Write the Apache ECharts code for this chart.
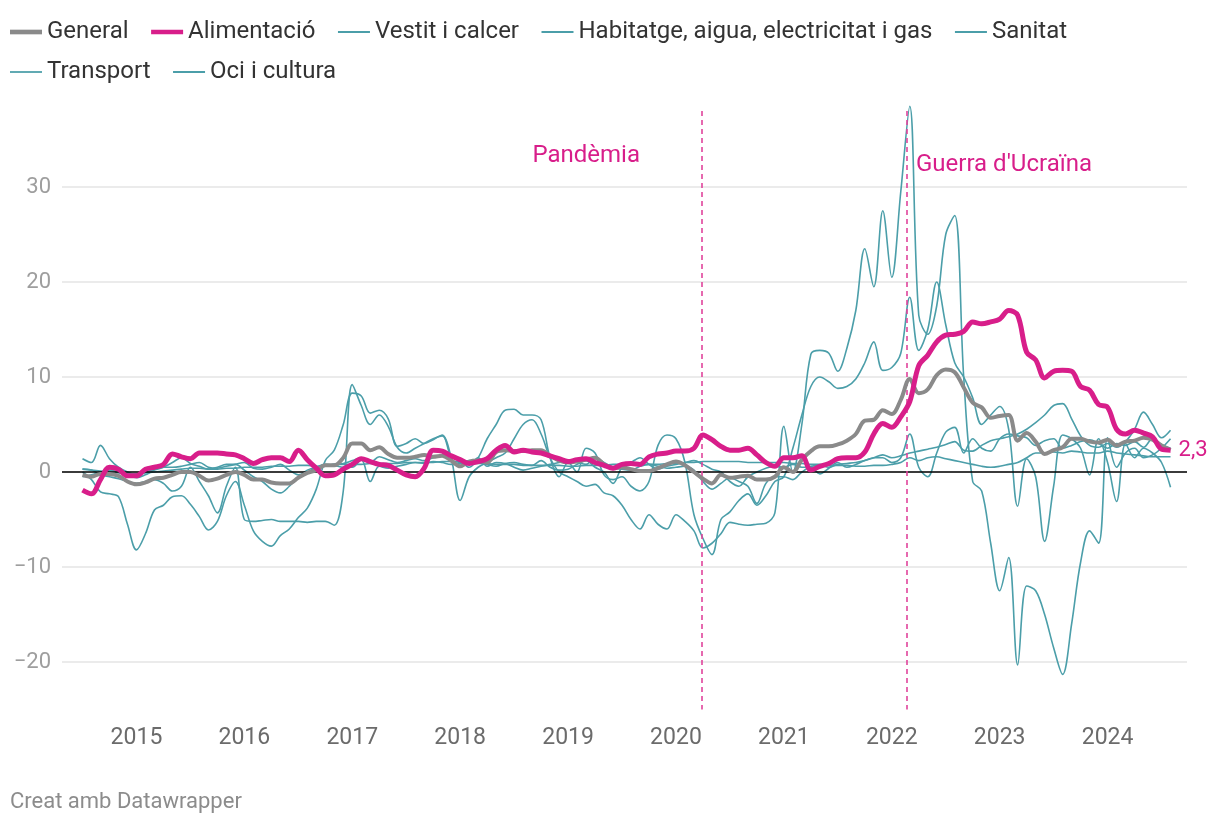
<!DOCTYPE html>
<html><head><meta charset="utf-8">
<script src="https://cdn.jsdelivr.net/npm/echarts@6/dist/echarts.min.js"></script>
<style>html,body{margin:0;padding:0;background:#fff}#c{width:1220px;height:826px}</style>
</head><body><div id="c"></div>
<script>
// Monthly annual CPI change (%), Jul 2014 – Aug 2024
const startYear = 2014, startMonth = 7;

const general = [
 -0.3,-0.5,-0.2,-0.2,-0.4,-1.0,
 -1.3,-1.1,-0.7,-0.6,-0.3,0.0,0.0,-0.4,-0.9,-0.7,-0.3,0.0,
 -0.3,-0.8,-0.8,-1.1,-1.2,-1.2,-0.6,-0.1,0.2,0.7,0.7,1.5,
 3.0,3.0,2.3,2.6,1.9,1.5,1.5,1.6,1.8,1.6,1.7,1.2,
 0.6,1.1,1.2,1.0,2.1,2.3,2.2,2.2,2.3,2.3,1.7,1.2,
 1.0,1.1,1.3,1.5,0.8,0.4,0.5,0.3,0.1,0.1,0.4,0.8,
 1.1,0.7,0.0,-0.7,-1.2,-0.3,-0.6,-0.5,-0.4,-0.8,-0.8,-0.5,
 0.5,0.0,1.3,2.2,2.7,2.7,2.9,3.3,4.0,5.4,5.5,6.5,
 6.1,7.6,9.8,8.3,8.7,10.2,10.8,10.5,8.9,7.3,6.8,5.7,
 5.9,6.0,3.3,4.1,3.2,1.9,2.3,2.6,3.5,3.5,3.2,3.1,
 3.4,2.8,3.2,3.3,3.6,3.4,2.8,2.3
];
const alimentacio = [
 -1.9,-2.3,-0.8,0.5,0.3,-0.4,
 -0.4,0.3,0.5,0.8,1.9,1.6,1.4,2.0,2.0,2.0,1.9,1.8,
 1.4,0.9,1.3,1.5,1.5,1.1,2.3,1.3,0.4,-0.4,-0.3,0.3,
 0.8,1.4,1.1,0.8,0.7,0.2,-0.3,-0.5,0.4,2.3,2.2,1.7,
 1.3,0.9,1.1,1.4,2.3,2.8,2.1,2.3,2.1,2.0,1.7,1.4,
 1.1,1.3,1.4,1.0,0.7,0.4,0.8,0.9,0.8,1.6,1.9,2.0,
 2.2,2.2,2.5,3.9,3.4,2.7,2.3,2.3,2.5,1.8,1.0,0.6,
 1.5,1.5,1.7,0.2,0.6,0.9,1.4,1.5,1.5,2.1,4.0,5.1,
 4.7,5.8,7.4,11.2,12.3,13.7,14.4,14.5,14.8,15.8,15.6,15.8,
 16.1,17.0,16.5,12.6,11.8,9.9,10.6,10.7,10.6,9.0,8.6,7.1,
 6.8,4.5,4.0,4.4,4.1,3.7,2.4,2.3
];
const vestit = [
 1.4,1.0,2.8,1.4,0.5,0.0,
 -0.3,0.0,0.3,0.5,0.5,0.6,0.8,1.0,0.5,0.4,0.6,0.8,
 1.0,0.4,0.3,0.5,0.8,0.2,-0.3,0.0,0.5,0.8,0.7,0.5,
 0.5,1.3,-1.0,0.6,0.4,0.6,0.8,1.0,0.9,1.1,1.0,0.8,
 0.9,1.2,1.0,0.8,0.6,0.9,1.0,0.8,0.7,1.2,0.5,0.2,
 0.3,0.8,1.2,0.5,0.0,-1.2,0.5,1.0,1.5,0.8,0.3,0.6,
 0.8,1.0,1.2,0.8,0.3,0.0,-1.0,-1.5,-0.5,0.0,0.4,0.6,
 0.5,0.8,0.5,0.6,0.7,0.5,0.8,0.9,1.0,1.2,1.5,1.5,
 1.0,1.5,4.0,0.5,-0.5,2.0,4.2,4.7,2.0,3.5,2.5,2.2,
 3.5,4.0,3.8,3.6,2.8,3.3,3.5,2.5,2.8,3.2,3.4,3.0,
 2.5,3.0,2.8,3.2,2.6,3.5,2.9,2.5
];
const habitatge = [
 0.3,0.2,-0.3,-0.5,-0.7,-1.0,
 -1.2,-1.0,-0.8,-1.2,-2.0,-1.5,0.5,-1.0,-2.5,-4.3,-1.5,0.5,
 -5.0,-5.2,-5.1,-5.0,-5.2,-5.2,-5.2,-5.3,-5.2,-5.2,-5.6,-2.0,
 9.2,7.0,5.0,6.0,4.8,2.6,2.0,2.5,3.0,3.5,3.8,1.5,
 -3.0,-0.5,0.5,1.0,1.5,2.0,3.5,5.0,5.5,4.0,1.5,0.0,
 -0.5,-1.0,-1.5,-1.3,-2.2,-2.5,-3.5,-5.0,-6.0,-4.5,-5.5,-6.0,
 -4.5,-5.2,-6.2,-8.0,-7.5,-6.5,-5.3,-5.5,-5.6,-5.5,-5.4,-4.3,
 4.8,0.0,5.0,12.4,12.8,12.5,10.6,13.0,17.0,23.5,19.5,27.5,
 20.5,29.5,38.5,16.5,14.5,17.5,25.0,27.0,10.0,-1.0,-2.0,-7.5,
 -12.5,-9.0,-20.3,-12.0,-12.5,-15.0,-18.5,-21.3,-16.0,-9.5,-6.2,-7.5,
 3.6,0.5,2.0,2.5,1.5,1.8,2.5,3.5
];
const sanitat = [
 0.3,0.2,0.1,0.0,-0.1,-0.2,
 -0.2,-0.1,0.0,0.1,0.2,0.3,0.4,0.4,0.3,0.3,0.4,0.4,
 0.5,0.5,0.5,0.6,0.6,0.6,0.7,0.7,0.6,0.7,0.8,0.8,
 0.8,0.8,0.9,0.9,0.9,0.9,1.0,1.0,1.0,1.0,1.1,1.1,
 1.1,1.0,0.9,0.9,0.8,0.8,0.8,0.7,0.7,0.7,0.7,0.7,
 0.6,0.6,0.7,0.7,0.7,0.8,0.8,0.8,0.8,0.8,0.8,0.9,
 0.9,1.0,1.0,1.1,1.1,1.1,1.1,1.1,1.0,1.0,1.0,1.0,
 1.0,0.9,0.9,0.8,0.8,0.7,0.7,0.7,0.6,0.6,0.7,0.7,
 0.8,1.0,1.5,1.2,1.5,1.6,1.4,1.2,1.0,0.8,0.6,0.5,
 0.6,0.8,1.0,1.5,2.0,2.0,2.1,2.0,2.2,2.1,2.0,2.0,
 2.2,2.0,1.9,1.8,1.7,1.6,1.6,1.6
];
const transport = [
 0.0,-0.8,-2.1,-2.3,-2.6,-5.5,
 -8.2,-6.5,-4.0,-3.5,-2.6,-2.5,-3.4,-4.7,-6.1,-5.2,-2.5,-1.0,
 -3.5,-6.2,-7.3,-7.8,-6.7,-6.0,-4.8,-3.8,-1.8,1.2,2.3,5.0,
 8.3,8.0,6.2,6.5,5.6,2.7,3.0,3.5,3.0,3.4,3.9,1.6,
 1.2,0.5,1.5,3.5,5.0,6.5,6.6,6.0,6.0,5.5,1.5,-0.5,
 1.0,0.0,2.5,2.0,-0.3,-0.8,-0.5,-1.5,-2.0,-1.0,2.8,3.9,
 3.5,1.0,-4.5,-7.0,-8.7,-5.0,-4.2,-3.0,-2.3,-3.5,-2.5,-1.0,
 -0.5,2.5,6.0,9.0,10.0,9.5,8.8,9.0,9.8,11.5,13.7,10.7,
 11.0,12.5,18.4,12.8,15.0,20.0,15.5,11.5,10.0,7.8,5.0,6.0,
 6.9,4.5,-3.6,1.4,-0.5,-7.3,-1.5,3.9,3.5,2.5,-0.3,3.5,
 1.0,-3.1,3.0,1.5,2.5,2.0,1.0,-1.6
];
const oci = [
 -0.5,-0.3,0.0,0.2,0.0,-0.3,
 -0.6,-0.3,0.2,0.5,1.0,1.5,0.9,0.6,0.3,0.5,0.8,0.8,
 0.2,-0.5,-1.0,-1.8,-2.2,-1.5,-0.5,0.2,0.5,0.6,0.8,0.9,
 1.2,1.5,1.0,1.6,1.3,1.0,1.2,1.4,1.2,1.5,1.7,1.2,
 1.0,0.8,1.5,0.6,1.0,0.9,0.5,0.2,0.4,0.6,0.8,1.0,
 1.2,1.0,0.8,1.5,1.0,0.5,0.3,0.2,0.6,0.8,0.6,0.4,
 0.5,0.6,0.2,-1.0,-1.8,-1.2,-0.6,-1.0,-1.5,-3.3,-1.2,-0.5,
 -0.5,-0.8,0.0,0.5,-0.2,0.4,1.0,0.5,0.8,1.2,1.5,1.8,
 1.5,1.7,2.0,2.2,2.4,2.6,2.9,3.2,2.3,2.2,2.8,3.3,
 3.5,3.7,4.0,4.5,5.2,6.0,7.0,7.2,5.6,3.8,2.8,2.6,
 3.0,2.6,3.2,4.5,6.3,5.0,3.6,4.4
];
const yearTicks = [2015,2016,2017,2018,2019,2020,2021,2022,2023,2024];
const events = [
  {name:'Pandèmia', t:2020.235},
  {name:"Guerra d'Ucraïna", t:2022.142}
];
const legendRow1 = ['General','Alimentació','Vestit i calcer','Habitatge, aigua, electricitat i gas','Sanitat'];
const legendRow2 = ['Transport','Oci i cultura'];
const thickNames = ['General','Alimentació'];

// month positions (fractional years)
const months = general.map((_, i) => startYear + (startMonth - 1 + i) / 12);
const toData = arr => arr.map((v, i) => [months[i], v]);

const MAG = '#d81e8a', GREY = '#8a8a8a', TEAL = '#4b9ea9', DASH = '#e0449c';
const ICON_THICK = 'path://M0,0H62V9H0Z';
const ICON_THIN = 'path://M0,0H62V3.4H0Z';

const teal = (name, arr) => ({
  name, type:'line', data:toData(arr), symbol:'none', smooth:0.35, clip:false,
  lineStyle:{color:TEAL, width:1.6}, itemStyle:{color:TEAL}, z:2,
  emphasis:{disabled:true}
});

const legendBase = {
  left:10, padding:0, itemGap:22.5, itemWidth:32, itemHeight:14, symbolKeepAspect:true,
  textStyle:{fontSize:24, color:'#333', fontFamily:'Roboto'}
};
const legendItems = names => names.map(n => ({name:n, icon: thickNames.includes(n) ? ICON_THICK : ICON_THIN}));

const chart = echarts.init(document.getElementById('c'), null, {renderer:'canvas'});
const opt = {
  animation:false,
  backgroundColor:'#fff',
  textStyle:{fontFamily:'Roboto'},
  title:{text:'Creat amb Datawrapper', left:10, top:791, padding:0,
    textStyle:{fontSize:22, fontWeight:'normal', color:'#8c8c8c', fontFamily:'Roboto'}},
  legend:[
    Object.assign({}, legendBase, {top:20, data:legendItems(legendRow1)}),
    Object.assign({}, legendBase, {top:60, data:legendItems(legendRow2)})
  ],
  grid:{left:62, right:33, top:111, bottom:116.5},
  xAxis:{
    type:'value', min:2014.31, max:2024.736, minInterval:1, maxInterval:1,
    axisLine:{show:false}, axisTick:{show:false}, splitLine:{show:false},
    axisLabel:{fontSize:23, color:'#6b6b6b', margin:17, fontFamily:'Roboto',
      formatter:v => { const r=Math.round(v); return (Math.abs(v-r)<1e-6 && yearTicks.includes(r)) ? String(r) : ''; }}
  },
  yAxis:{
    type:'value', min:-25, max:38, minInterval:10, maxInterval:10,
    axisLine:{show:false}, axisTick:{show:false},
    splitLine:{show:true, showMinLine:false, showMaxLine:false, lineStyle:{color:'#e4e4e4', width:1.5}},
    axisLabel:{fontSize:22, color:'#9e9e9e', margin:11, fontFamily:'Roboto',
      formatter:v => (Math.abs(v % 10) < 1e-6) ? String(v).replace('-', '\u2212') : ''}
  },
  graphic:[
    {type:'text', right:1220-640, top:144, style:{text:events[0].name, fill:MAG, font:'24px Roboto'}},
    {type:'text', left:916, top:153, style:{text:events[1].name, fill:MAG, font:'24px Roboto'}}
  ],
  series:[
    teal('Vestit i calcer', vestit),
    teal('Sanitat', sanitat),
    teal('Oci i cultura', oci),
    teal('Transport', transport),
    Object.assign(teal('Habitatge, aigua, electricitat i gas', habitatge), {
      markLine:{silent:true, symbol:'none', label:{show:false}, z:3,
        data:[
          {yAxis:0, lineStyle:{color:'#000', width:1.6, type:'solid'}},
          ...events.map(e => [
            {coord:[e.t, 38], lineStyle:{color:DASH, width:1.6, type:[5,4]}},
            {coord:[e.t, -25]}
          ])
        ]}
    }),
    {name:'General', type:'line', data:toData(general), symbol:'none', smooth:0.35, clip:false,
      lineStyle:{color:GREY, width:4}, itemStyle:{color:GREY}, z:4, emphasis:{disabled:true}},
    {name:'Alimentació', type:'line', data:toData(alimentacio), symbol:'none', smooth:0.35, clip:false,
      lineStyle:{color:MAG, width:5}, itemStyle:{color:MAG}, z:5, emphasis:{disabled:true},
      endLabel:{show:true, distance:8, color:MAG, fontSize:22, fontFamily:'Roboto',
        formatter:p => String(p.value[1]).replace('.', ',')}}
  ]
};
chart.setOption(opt);
</script></body></html>
